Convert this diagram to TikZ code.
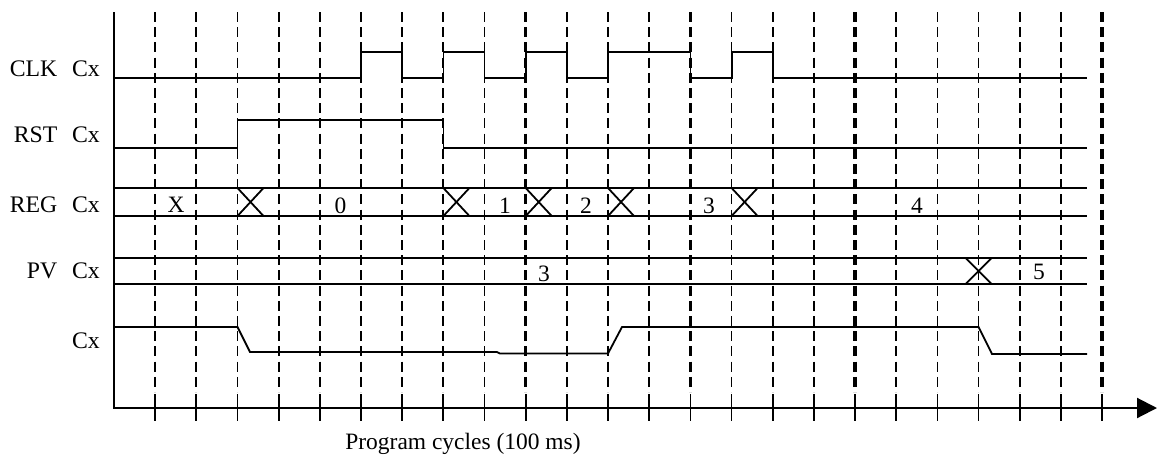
\documentclass[tikz,border=0pt]{standalone}
\usepackage{fontspec}
\setmainfont{Liberation Serif}
\usetikzlibrary{arrows.meta}
\begin{document}
\begin{tikzpicture}[x=0.75pt,y=-0.75pt,
  sig/.style={line width=1.35pt, line join=miter},
  gridthin/.style={line width=1.3pt, dash pattern=on 7.5pt off 3.9pt},
  gridthick/.style={line width=2.6pt, dash pattern=on 7.5pt off 3.9pt},
  gridtick/.style={line width=1.3pt},
  axis/.style={line width=1.6pt},
  lbl/.style={font=\fontsize{17.8}{20}\selectfont, inner sep=0pt, anchor=base east},
  val/.style={font=\fontsize{17.6}{20}\selectfont, inner sep=0pt, anchor=base},
  ]
\useasboundingbox (0,0) rectangle (1158,462);
% grid lines
\foreach \k in {1,...,9,11,12,13,15,16,17,19,20,21,22,23}{
  \draw[gridthin] ({114+41.17*\k},12) -- ({114+41.17*\k},392);
  \draw[gridtick] ({114+41.17*\k},394) -- ({114+41.17*\k},421);
}
\foreach \k in {10,14,18,24}{
  \draw[gridthick] ({114+41.17*\k},12) -- ({114+41.17*\k},392);
  \draw[gridtick] ({114+41.17*\k},394) -- ({114+41.17*\k},421);
}
% axes
\draw[axis] (114,12) -- (114,408.5);
\draw[axis, -{Triangle[length=15pt,width=15pt]}] (113.3,408) -- (1157,408);
% labels
\node[lbl] (lclk) at (100,76) {CLK\hspace{0.62em}Cx};
\node[lbl] (lrst) at (100,142) {RST\hspace{0.62em}Cx};
\node[lbl] (lreg) at (100,212) {REG\hspace{0.62em}Cx};
\node[lbl] (lpv) at (100,278) {PV\hspace{0.62em}Cx};
\node[lbl] (lcx) at (100,348) {Cx};
% CLK
\draw[sig] (114,78) -| (361,52) -| (402.2,78) -| (443.4,52) -| (484.5,78)
  -| (525.7,52) -| (566.9,78) -| (608,52) -| (690.4,78) -| (731.6,52)
  -| (772.7,78) -- (1087,78);
% RST
\draw[sig] (114,148) -| (237.5,120) -| (443.4,148) -- (1087,148);
% REG
\draw[sig] (114,188) -- (1087,188);
\draw[sig] (114,216) -- (1087,216);
\foreach \xx in {237.5,443.4,525.7,608,731.6}{
  \draw[sig] (\xx,188) -- ({\xx+26},216);
  \draw[sig] (\xx,216) -- ({\xx+26},188);
}
\node[val] (rx) at (176,212) {X};
\node[val] (r0) at (340.5,213) {0};
\node[val] (r1) at (505,213) {1};
\node[val] (r2) at (586,213) {2};
\node[val] (r3) at (709,213) {3};
\node[val] (r4) at (917,213) {4};
% PV
\draw[sig] (114,258) -- (1087,258);
\draw[sig] (114,284) -- (1087,284);
\draw[sig] (965.6,258) -- (991.6,284);
\draw[sig] (965.6,284) -- (991.6,258);
\node[val] (p3) at (544,281) {3};
\node[val] (p5) at (1039,279) {5};
% Cx
\draw[sig] (114,327) -- (237.5,327) -- (250,352) -- (497,352) -- (500,353.5)
  -- (608,353.5) -- (622,327) -- (978.6,327) -- (992,354) -- (1087,354);
% caption
\node[val] (cap) at (463,449) {Program cycles (100 ms)};
\end{tikzpicture}
\end{document}
